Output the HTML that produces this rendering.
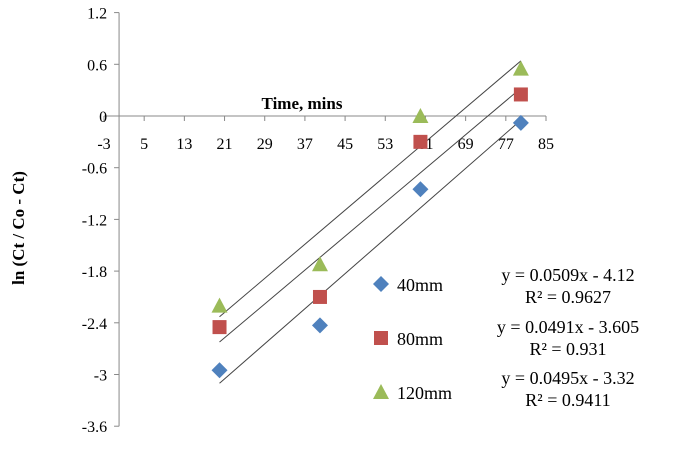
<!DOCTYPE html>
<html><head><meta charset="utf-8"><style>
body{margin:0;background:#fff;}
svg text{font-family:"Liberation Serif",serif;fill:#000;}
</style></head><body>
<svg id="chart" width="676" height="451" viewBox="0 0 676 451"></svg>
<script>
const xTicks=[-3,5,13,21,29,37,45,53,61,69,77,85];
const yTicks=[1.2,0.6,0,-0.6,-1.2,-1.8,-2.4,-3,-3.6];
const times=[20,40,60,80];
const s40=[-2.95,-2.43,-0.85,-0.08];
const s80=[-2.45,-2.1,-0.3,0.25];
const s120=[-2.2,-1.72,0.0,0.55];
const slopes=[0.0509,0.0491,0.0495];
const intercepts=[-4.12,-3.605,-3.32];
const seriesNames=["40mm","80mm","120mm"];
const eqs=["y = 0.0509x  - 4.12","y = 0.0491x  - 3.605","y = 0.0495x  - 3.32"];
const r2s=["R² = 0.9627","R² = 0.931","R² = 0.9411"];

const NS="http://www.w3.org/2000/svg";
const svg=document.getElementById('chart');
const X=v=>104+(v+3)*(442/88);
const Y=v=>116-v*(51.7/0.6);
function mk(t,a,p){const e=document.createElementNS(NS,t);for(const k in a)e.setAttribute(k,a[k]);(p||svg).appendChild(e);return e;}

// axes
let ya=mk('line',{x1:X(0),y1:Y(1.2),x2:X(0),y2:Y(-3.6),stroke:'#888','stroke-width':1});


let xa=mk('line',{x1:X(-3),y1:Y(0),x2:X(85),y2:Y(0),stroke:'#888','stroke-width':1});


yTicks.forEach(v=>{
  mk('line',{x1:X(0)-5,y1:Y(v),x2:X(0),y2:Y(v),stroke:'#888'});
  let t=mk('text',{x:X(0)-12,y:Y(v)+6,'text-anchor':'end','font-size':16});
  t.textContent=v.toFixed(1).replace('-0.0','0').replace(/^0\.0$/,'0').replace(/\.0$/,'');
  
  
});
xTicks.forEach(v=>{
  mk('line',{x1:X(v),y1:Y(0),x2:X(v),y2:Y(0)+5,stroke:'#888'});
  let t=mk('text',{x:X(v),y:Y(0)+33,'text-anchor':'middle','font-size':16});
  t.textContent=v;
  
  
});
let xt=mk('text',{x:302,y:109,'text-anchor':'middle','font-size':17,'font-weight':'bold'});
xt.textContent='Time, mins';


let yt=mk('text',{x:0,y:0,'text-anchor':'middle','font-size':17,'font-weight':'bold',transform:'translate(24,228) rotate(-90)'});
yt.textContent='ln (Ct / Co - Ct)';



// trendlines
slopes.forEach((m,i)=>{
  let l=mk('line',{x1:X(20),y1:Y(m*20+intercepts[i]),x2:X(80),y2:Y(m*80+intercepts[i]),stroke:'#444','stroke-width':1});
  
  
});

function marker(kind,cx,cy){
  let e;
  if(kind===0) e=mk('polygon',{points:`${cx},${cy-8} ${cx+8},${cy} ${cx},${cy+8} ${cx-8},${cy}`,fill:'#4f81bd'});
  else if(kind===1) e=mk('rect',{x:cx-7,y:cy-7,width:14,height:14,fill:'#c0504d'});
  else e=mk('polygon',{points:`${cx},${cy-8} ${cx+8},${cy+7} ${cx-8},${cy+7}`,fill:'#9bbb59'});
  return e;
}
[s40,s80,s120].forEach((s,i)=>{
  s.forEach((v,j)=>{
    let e=marker(i,X(times[j]),Y(v));
    
    
  });
});
// legend
const legY=[285,339,393];
seriesNames.forEach((n,i)=>{
  let m=marker(i,381,legY[i]-1);
  
  
  let t=mk('text',{x:397,y:legY[i]+6,'font-size':18});
  t.textContent=n;
  
  
});
const eqY=[281,333,384];
eqs.forEach((e,i)=>{
  let t=mk('text',{x:568,y:eqY[i],'text-anchor':'middle','font-size':18});
  t.textContent=e;
  
  
  let r=mk('text',{x:568,y:eqY[i]+22,'text-anchor':'middle','font-size':18});
  r.textContent=r2s[i];
  
  
});
</script>
</body></html>
